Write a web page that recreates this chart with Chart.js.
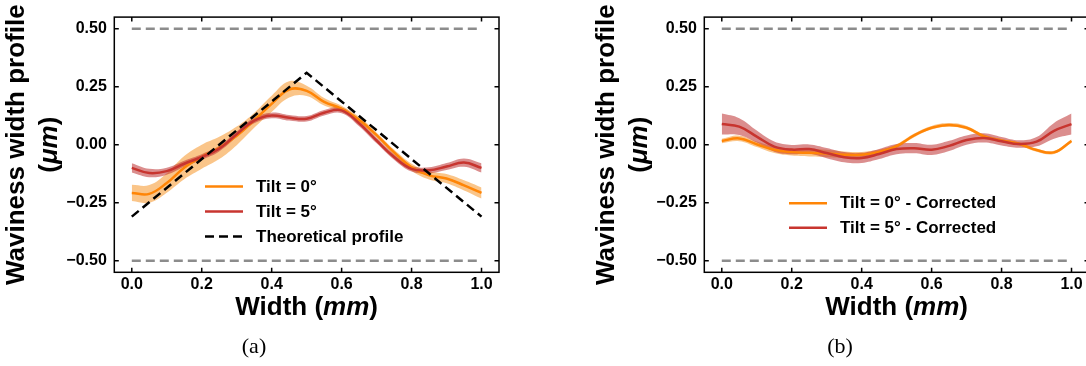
<!DOCTYPE html>
<html>
<head>
<meta charset="utf-8">
<script src="https://cdn.jsdelivr.net/npm/chart.js@4.4.0/dist/chart.umd.min.js"></script>
<style>
  body { margin: 0; background: #fff; overflow: hidden; width: 1086px; height: 366px; position: relative; }
  canvas { position: absolute; top: 0; }
  #chartA { left: 0; }
  #chartB { left: 590px; }
  .caption { position: absolute; top: 335px; font-family: "Liberation Serif", serif; font-size: 22px; line-height: 1; transform: translateX(-50%); }
</style>
</head>
<body>
<canvas id="chartA" width="543" height="366"></canvas>
<canvas id="chartB" width="543" height="366"></canvas>
<div class="caption" style="left:254px">(a)</div>
<div class="caption" style="left:840px">(b)</div>
<script>
// sample positions across the width (mm)
const widthMm = [0, 0.05, 0.1, 0.15, 0.2, 0.25, 0.3, 0.35, 0.4, 0.45, 0.5, 0.55, 0.6, 0.65, 0.7, 0.75, 0.8, 0.85, 0.9, 0.95, 1.0]

// (a) raw profiles
const tilt0 = [-0.208, -0.212, -0.165, -0.099, -0.052, -0.014, 0.038, 0.105, 0.176, 0.238, 0.232, 0.185, 0.155, 0.108, 0.041, -0.033, -0.097, -0.132, -0.146, -0.175, -0.208]
const tilt0Err = [0.035, 0.038, 0.042, 0.05, 0.052, 0.048, 0.04, 0.032, 0.035, 0.035, 0.022, 0.016, 0.013, 0.012, 0.011, 0.012, 0.015, 0.018, 0.02, 0.022, 0.024]
const tilt5 = [-0.100, -0.122, -0.114, -0.082, -0.053, -0.017, 0.045, 0.104, 0.126, 0.116, 0.112, 0.138, 0.148, 0.092, 0.018, -0.053, -0.104, -0.110, -0.094, -0.077, -0.100]
const tilt5Err = [0.02, 0.018, 0.015, 0.013, 0.012, 0.012, 0.012, 0.012, 0.012, 0.012, 0.012, 0.012, 0.012, 0.012, 0.012, 0.012, 0.012, 0.013, 0.015, 0.018, 0.02]
const theoryX = [0, 0.5, 1.0]
const theoryY = [-0.31, 0.31, -0.31]

// (b) corrected profiles
const tilt0Corr = [0.016, 0.027, 0.002, -0.022, -0.032, -0.035, -0.038, -0.043, -0.043, -0.031, -0.006, 0.040, 0.073, 0.085, 0.073, 0.036, 0.018, 0.004, -0.023, -0.033, 0.016]
const tilt0CorrErr = [0.01, 0.012, 0.012, 0.014, 0.015, 0.016, 0.016, 0.014, 0.012, 0.01, 0.008, 0.008, 0.008, 0.008, 0.008, 0.008, 0.007, 0.007, 0.007, 0.007, 0.008]
const tilt5Corr = [0.089, 0.078, 0.035, -0.008, -0.021, -0.019, -0.036, -0.054, -0.057, -0.040, -0.019, -0.015, -0.022, -0.005, 0.020, 0.029, 0.015, 0.003, 0.013, 0.060, 0.089]
const tilt5CorrErr = [0.045, 0.036, 0.026, 0.022, 0.02, 0.02, 0.022, 0.022, 0.022, 0.022, 0.022, 0.022, 0.022, 0.022, 0.02, 0.02, 0.018, 0.016, 0.02, 0.034, 0.045]

// tolerance limits (dashed grey)
const limitX = [0, 1.0]
const limitHi = [0.5, 0.5]
const limitLo = [-0.5, -0.5]

const xTickValues = [0, 0.2, 0.4, 0.6, 0.8, 1.0]
const xTickLabels = ['0.0', '0.2', '0.4', '0.6', '0.8', '1.0']
const yTickValues = [-0.5, -0.25, 0, 0.25, 0.5]
const yTickLabels = ['\u22120.50', '\u22120.25', '0.00', '0.25', '0.50']

const FONT = '"Liberation Sans", Arial, sans-serif'
const ORANGE = '#ff8506'
const RED = '#c8352f'
const ORANGE_BAND = 'rgba(245, 150, 40, 0.55)'
const RED_BAND = 'rgba(190, 50, 50, 0.55)'
const GREY = '#8c8c8c'

const pts = (xs, ys) => xs.map((x, i) => ({ x: x, y: ys[i] }))
const shifted = (ys, err, sign) => ys.map((v, i) => v + sign * err[i])

function lineSet(label, ys, color, order) {
    return {
        label: label, inLegend: true, data: pts(widthMm, ys),
        borderColor: color, borderWidth: 2.5, pointRadius: 0, tension: 0.4, fill: false, order: order
    }
}

function bandSets(ys, err, color, order) {
    return [
        { data: pts(widthMm, shifted(ys, err, 1)), borderColor: 'rgba(0,0,0,0)', borderWidth: 0, pointRadius: 0, tension: 0.4, backgroundColor: color, fill: '+1', order: order },
        { data: pts(widthMm, shifted(ys, err, -1)), borderColor: 'rgba(0,0,0,0)', borderWidth: 0, pointRadius: 0, tension: 0.4, fill: false, order: order }
    ]
}

function limitSets() {
    return [limitHi, limitLo].map(ys => ({
        data: pts(limitX, ys), borderColor: GREY, borderWidth: 2.5, borderDash: [9, 5],
        pointRadius: 0, tension: 0, fill: false, order: 6
    }))
}

// frame on all four sides with inward ticks
const framePlugin = {
    id: 'frameTicks',
    afterDraw(chart) {
        const { ctx, chartArea: a, scales: { x, y } } = chart
        const len = 4.5
        ctx.save()
        ctx.strokeStyle = '#000'
        ctx.lineWidth = 1.5
        ctx.strokeRect(a.left, a.top, a.right - a.left, a.bottom - a.top)
        ctx.beginPath()
        x.ticks.forEach(t => {
            const px = x.getPixelForValue(t.value)
            ctx.moveTo(px, a.bottom); ctx.lineTo(px, a.bottom - len)
            ctx.moveTo(px, a.top); ctx.lineTo(px, a.top + len)
        })
        y.ticks.forEach(t => {
            const py = y.getPixelForValue(t.value)
            ctx.moveTo(a.left, py); ctx.lineTo(a.left + len, py)
            ctx.moveTo(a.right, py); ctx.lineTo(a.right - len, py)
        })
        ctx.stroke()
        ctx.restore()
    }
}

// axis titles with a bold-italic unit
function drawRuns(ctx, runs, size, cx, baseline) {
    const fontOf = r => (r.italic ? 'italic ' : '') + 'bold ' + size + 'px ' + FONT
    const widths = runs.map(r => { ctx.font = fontOf(r); return ctx.measureText(r.text).width })
    let xx = cx - widths.reduce((s, w) => s + w, 0) / 2
    runs.forEach((r, i) => {
        ctx.font = fontOf(r)
        ctx.fillText(r.text, xx, baseline)
        xx += widths[i]
    })
}

const titlePlugin = {
    id: 'axisTitles',
    afterDraw(chart, args, opts) {
        const { ctx, chartArea: a } = chart
        ctx.save()
        ctx.fillStyle = '#000'
        ctx.textBaseline = 'alphabetic'
        drawRuns(ctx, [{ text: 'Width (' }, { text: 'mm', italic: true }, { text: ')' }], opts.size, (a.left + a.right) / 2, opts.xBaseline)
        ctx.translate(0, (a.top + a.bottom) / 2)
        ctx.rotate(-Math.PI / 2)
        drawRuns(ctx, [{ text: 'Waviness width profile' }], opts.size, 0, opts.yLine1)
        drawRuns(ctx, [{ text: '(' }, { text: '\u03bcm', italic: true }, { text: ')' }], opts.size, 0, opts.yLine2)
        ctx.restore()
    }
}

const legendPlugin = {
    id: 'insideLegend',
    afterDraw(chart, args, opts) {
        const ctx = chart.ctx
        const items = chart.data.datasets.filter(d => d.inLegend)
        ctx.save()
        items.forEach((d, i) => {
            const yy = opts.top + i * opts.rowGap
            ctx.strokeStyle = d.borderColor
            ctx.lineWidth = d.borderWidth
            ctx.setLineDash(d.borderDash || [])
            ctx.beginPath()
            ctx.moveTo(opts.left, yy)
            ctx.lineTo(opts.left + 38, yy)
            ctx.stroke()
            ctx.fillStyle = '#000'
            ctx.font = 'bold 17px ' + FONT
            ctx.textBaseline = 'middle'
            ctx.fillText(d.label, opts.left + 51, yy + 0.5)
        })
        ctx.restore()
    }
}

function makeChart(id, datasets, legendPos) {
    return new Chart(document.getElementById(id), {
        type: 'line',
        data: { datasets: datasets },
        options: {
            responsive: false,
            animation: false,
            events: [],
            layout: { padding: { top: 5, right: 44, left: 0, bottom: 0 } },
            plugins: {
                legend: { display: false },
                tooltip: { enabled: false },
                insideLegend: legendPos,
                axisTitles: { size: 26, xBaseline: 315, yLine1: 23.5, yLine2: 57 }
            },
            scales: {
                x: {
                    type: 'linear', min: -0.05, max: 1.05,
                    grid: { display: false, drawTicks: false }, border: { display: false },
                    afterBuildTicks: s => { s.ticks = xTickValues.map(v => ({ value: v })) },
                    afterFit: s => { s.height = 366 - 272.3 },
                    ticks: { autoSkip: false, maxRotation: 0, padding: 3, color: '#000', font: { family: FONT, size: 16, weight: 'bold' }, callback: (v, i) => xTickLabels[i] }
                },
                y: {
                    min: -0.55, max: 0.55,
                    grid: { display: false, drawTicks: false }, border: { display: false },
                    afterBuildTicks: s => { s.ticks = yTickValues.map(v => ({ value: v })) },
                    afterFit: s => { s.width = 114.3 },
                    ticks: { autoSkip: false, padding: 7.5, color: '#000', font: { family: FONT, size: 16, weight: 'bold' }, callback: (v, i) => yTickLabels[i] }
                }
            }
        },
        plugins: [framePlugin, titlePlugin, legendPlugin]
    })
}

const theorySet = {
    label: 'Theoretical profile', inLegend: true, data: pts(theoryX, theoryY),
    borderColor: '#000', borderWidth: 2.5, borderDash: [9, 5], pointRadius: 0, tension: 0, fill: false, order: 0
}

makeChart('chartA', [
    lineSet('Tilt = 0\u00b0', tilt0, ORANGE, 2),
    lineSet('Tilt = 5\u00b0', tilt5, RED, 1),
    theorySet,
    ...bandSets(tilt5, tilt5Err, RED_BAND, 3),
    ...bandSets(tilt0, tilt0Err, ORANGE_BAND, 4),
    ...limitSets()
], { left: 205, top: 186.5, rowGap: 25 })

makeChart('chartB', [
    lineSet('Tilt = 0\u00b0 - Corrected', tilt0Corr, ORANGE, 2),
    lineSet('Tilt = 5\u00b0 - Corrected', tilt5Corr, RED, 1),
    ...bandSets(tilt5Corr, tilt5CorrErr, RED_BAND, 3),
    ...bandSets(tilt0Corr, tilt0CorrErr, ORANGE_BAND, 4),
    ...limitSets()
], { left: 199, top: 203.3, rowGap: 24.5 })
</script>
</body>
</html>
